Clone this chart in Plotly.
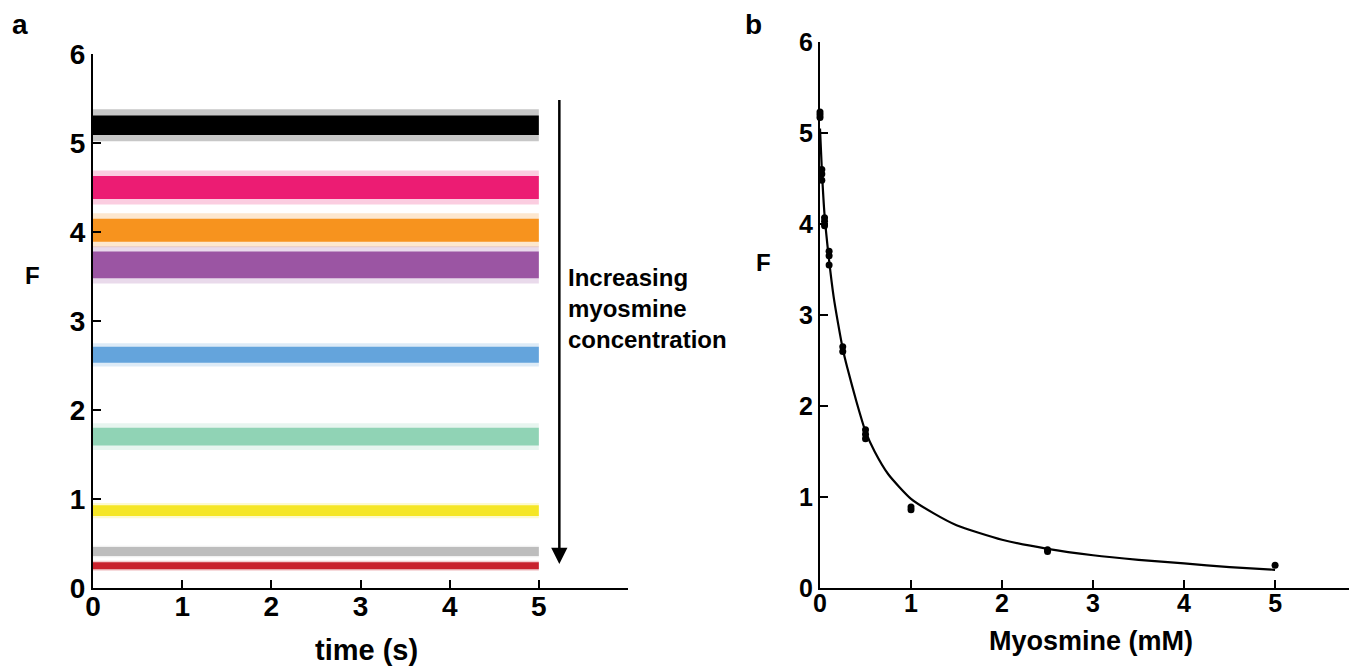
import plotly.graph_objects as go

# ---------------- data ----------------
# Panel a: fluorescence traces (mean level, dense-core half-width, outer scatter half-width)
trace_colors = ["#000000", "#EC1C73", "#F7931E", "#9B55A3", "#64A4DC",
                "#90D3B5", "#F5E626", "#BDBDBD", "#C8202C"]
trace_mean = [5.20, 4.50, 4.02, 3.63, 2.62, 1.70, 0.87, 0.41, 0.25]
trace_core = [0.11, 0.13, 0.13, 0.15, 0.09, 0.10, 0.06, 0.05, 0.04]
trace_outer = [0.18, 0.19, 0.19, 0.21, 0.13, 0.15, 0.085, 0.065, 0.055]
time_span = [0.0, 5.0]

# Panel b: measured points and fitted curve
conc_pts = [0, 0, 0, 0.02, 0.02, 0.02, 0.05, 0.05, 0.05, 0.1, 0.1, 0.1,
            0.25, 0.25, 0.5, 0.5, 0.5, 1, 1, 2.5, 2.5, 5]
F_pts = [5.17, 5.20, 5.23, 4.48, 4.55, 4.60, 3.98, 4.03, 4.07, 3.55, 3.65, 3.70,
         2.60, 2.65, 1.64, 1.69, 1.74, 0.86, 0.89, 0.40, 0.42, 0.25]
curve_x = [0, 0.02, 0.05, 0.1, 0.15, 0.2, 0.25, 0.3, 0.4, 0.5, 0.6, 0.75,
           1.0, 1.25, 1.5, 2.0, 2.5, 3.0, 3.5, 4.0, 4.5, 5.0]
curve_F = [5.05, 4.6, 4.1, 3.6, 3.2, 2.9, 2.63, 2.42, 2.05, 1.72, 1.5, 1.25,
           0.98, 0.82, 0.69, 0.53, 0.43, 0.36, 0.31, 0.27, 0.23, 0.20]

tick_a_x = [0, 1, 2, 3, 4, 5, 6]
tick_a_xtext = ["0", "1", "2", "3", "4", "5", ""]
tick_y = [0, 1, 2, 3, 4, 5, 6]
tick_b_x = [0, 1, 2, 3, 4, 5]

FONT = "Liberation Sans, Arial, sans-serif"

# page body has an 8px margin; the figure fills the rest of the 1357x667 window
OFF = 8
W, H = 1357 - OFF, 667 - OFF


def px(x):
    return (x - OFF) / W


def py(y):
    return 1 - (y - OFF) / H


fig = go.Figure()


def band(t, lo, hi, color, opacity):
    t0, t1 = t
    return go.Scatter(x=[t0, t1, t1, t0, t0], y=[lo, lo, hi, hi, lo],
                      mode="lines", fill="toself", fillcolor=color,
                      line=dict(width=0, color=color), opacity=opacity,
                      hoverinfo="skip", showlegend=False,
                      xaxis="x", yaxis="y")


for c, m, hc, ho in zip(trace_colors, trace_mean, trace_core, trace_outer):
    fig.add_trace(band(time_span, m - ho, m + ho, c, 0.22))
    fig.add_trace(band(time_span, m - hc, m + hc, c, 1.0))

fig.add_trace(go.Scatter(x=curve_x, y=curve_F, mode="lines",
                         line=dict(color="black", width=2.2, shape="spline", smoothing=0.6),
                         showlegend=False, xaxis="x2", yaxis="y2", cliponaxis=False))
fig.add_trace(go.Scatter(x=conc_pts, y=F_pts, mode="markers",
                         marker=dict(color="black", size=7),
                         showlegend=False, xaxis="x2", yaxis="y2", cliponaxis=False))

axis_common = dict(showline=True, linewidth=2, linecolor="black", ticks="inside",
                   ticklen=8, tickwidth=2, tickcolor="black", showgrid=False,
                   zeroline=False, fixedrange=True, automargin=False)

fig.update_layout(
    template="none",
    width=W, height=H, autosize=False,
    margin=dict(l=0, r=0, t=0, b=0, pad=0),
    paper_bgcolor="white", plot_bgcolor="white",
    font=dict(family=FONT, color="black"),
    xaxis=dict(domain=[px(93), px(628)], range=[0, 6], tickvals=tick_a_x,
               ticktext=tick_a_xtext, anchor="y", ticklabelstandoff=-8,
               tickfont=dict(size=28, family=FONT, weight="bold"), **axis_common),
    yaxis=dict(domain=[py(588), py(54)], range=[0, 6], tickvals=tick_y, anchor="x",
               tickfont=dict(size=28, family=FONT, weight="bold"), **axis_common),
    xaxis2=dict(domain=[px(820), 1.0], range=[0, 5.9], tickvals=tick_b_x, anchor="y2",
                ticklabelstandoff=-8,
                tickfont=dict(size=25, family=FONT, weight="bold"), **axis_common),
    yaxis2=dict(domain=[py(588), py(42)], range=[0, 6], tickvals=tick_y, anchor="x2",
                tickfont=dict(size=25, family=FONT, weight="bold"), **axis_common),
)

bold = lambda s: dict(size=s, family=FONT, weight="bold", color="black")


def label(text, x, y, size, **kw):
    d = dict(text=text, x=px(x), y=py(y), xref="paper", yref="paper",
             showarrow=False, font=bold(size), xanchor="center", yanchor="middle")
    d.update(kw)
    return d


annotations = [
    label("a", 20, 25, 28),
    label("b", 753, 25, 28),
    label("F", 32, 275, 24),
    label("F", 763, 262, 24),
    label("time (s)", 366, 650, 29),
    label("Myosmine (mM)", 1091, 641, 27),
    label("Increasing<br>myosmine<br>concentration", 566, 309, 24,
          xanchor="left", align="left"),
    dict(text="", x=5.23, y=0.27, ax=5.23, ay=5.5, xref="x", yref="y",
         axref="x", ayref="y", showarrow=True, arrowhead=2, arrowsize=1.3,
         arrowwidth=2.5, arrowcolor="black"),
]
fig.update_layout(annotations=annotations)

fig.write_html("out.html")
